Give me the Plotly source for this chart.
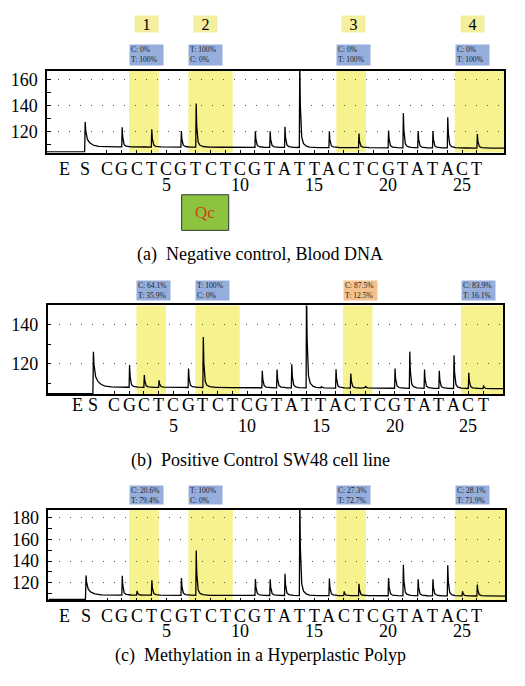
import numpy as np
import plotly.graph_objects as go

# The page body has an 8px margin, so the figure is drawn 8px smaller and all
# reference pixel coordinates are shifted by that offset.
OFF = 8
W, H = 525 - OFF, 686 - OFF
SERIF = "Liberation Serif, Times New Roman, serif"

# ---------------- data ----------------
dispensation = ["C", "G", "C", "T", "C", "G", "T", "C", "T", "C", "G", "T", "A",
                "T", "T", "A", "C", "T", "C", "G", "T", "A", "T", "A", "C", "T"]
disp_pos = list(range(1, 27))
number_ticks = [5, 10, 15, 20, 25]

# CpG site bands (start, end) in dispensation units; last runs to the edge
site_numbers = ["1", "2", "3", "4"]
band_start = [2.5, 6.5, 16.5, 24.5]
band_end = [4.5, 9.5, 18.5, None]

# Peak heights: S peak, then dispensations 1..26 (None = no peak)
s_height_a = 127.5
heights_a = [None, 123.3, None, 121.8, None, 120.5, 141.6, None, None, None,
             120.3, 120.3, 123.8, 175.0, None, 120.3, None, 118.5, None, 120.8,
             134.3, 120.5, 120.5, 131.0, None, 118.2]
baseline_a = [104.5, 108.4, 107.4]   # before S, after S, end

s_height_b = 126.0
heights_b = [None, 119.3, 114.2, 111.5, None, 117.5, 133.6, None, None, None,
             116.3, 117.0, 119.7, 160.0, 108.3, 117.1, 114.9, 108.6, None, 117.5,
             126.1, 117.0, 116.3, 124.3, 115.3, 108.8]
baseline_b = [104.7, 108.0, 107.2]

s_height_c = 126.7
heights_c = [None, 126.4, 112.3, 122.1, None, 124.3, 149.8, None, None, None,
             123.3, 123.0, 128.3, 200.0, None, 123.7, 112.0, 119.0, None, 124.3,
             136.6, 123.0, 123.0, 136.0, 112.0, 118.2]
baseline_c = [104.6, 108.5, 107.6]

labels_a = ["C: 0%<br>T: 100%", "T: 100%<br>C: 0%", "C: 0%<br>T: 100%", "C: 0%<br>T: 100%"]
labels_b = ["C: 64.1%<br>T: 35.9%", "T: 100%<br>C: 0%", "C: 87.5%<br>T: 12.5%", "C: 83.9%<br>T: 16.1%"]
labels_c = ["C: 20.6%<br>T: 79.4%", "T: 100%<br>C: 0%", "C: 27.3%<br>T: 72.7%", "C: 28.1%<br>T: 71.9%"]
highlight_b = [False, False, True, False]

captions = ["(a)\u00a0\u00a0Negative control, Blood DNA",
            "(b)\u00a0\u00a0Positive Control SW48 cell line",
            "(c)\u00a0\u00a0Methylation in a Hyperplastic Polyp"]

# ---------------- layout geometry (pixels in the reference) ----------------
def py(p):
    return 1 - (p - OFF) / H

def pxx(p):
    return (p - OFF) / W

panels = [
    dict(xd=(47, 504), yd=(69, 151), xr=(-3.05, 27.83), yr=(104.0, 166.6),
         ytv=[120, 140, 160], ymin=[110, 130, 150], e_pos=-1.85, s_pos=-0.5,
         s_h=s_height_a, h=heights_a, base=baseline_a, labels=labels_a,
         hl=[False] * 4, box_y=(43.7, 63.3), let_y=167.3, num_y=183.5, cap_y=253),
    dict(xd=(47.7, 503), yd=(304.3, 393.3), xr=(-3.52, 27.35), yr=(104.4, 149.7),
         ytv=[120, 140], ymin=[110, 130], e_pos=-1.5, s_pos=-0.45,
         s_h=s_height_b, h=heights_b, base=baseline_b, labels=labels_b,
         hl=highlight_b, box_y=(280, 298.5), let_y=404, num_y=425.5, cap_y=460),
    dict(xd=(48.3, 505), yd=(509.3, 600), xr=(-2.97, 27.9), yr=(103.7, 187.4),
         ytv=[120, 140, 160, 180], ymin=[110, 130, 150, 170], e_pos=-1.85, s_pos=-0.45,
         s_h=s_height_c, h=heights_c, base=baseline_c, labels=labels_c,
         hl=[False] * 4, box_y=(485, 503.3), let_y=616, num_y=631, cap_y=655),
]


def shape(d, fast, tail_w, tail_tau):
    out = np.zeros_like(d)
    rise = (d >= 0) & (d < 0.03)
    out[rise] = d[rise] / 0.03
    dec = d >= 0.03
    dd = d[dec] - 0.03
    out[dec] = (1 - tail_w) * np.exp(-dd / fast) + tail_w * np.exp(-dd / tail_tau)
    return out


def pyrogram(p):
    x0, x1 = p["xr"]
    x = np.round(np.arange(x0, x1 + 0.005, 0.01), 3)
    bpre, bstart, bend = p["base"]
    base = np.where(x < p["s_pos"], bpre,
                    bstart + (bend - bstart) * (x - p["s_pos"]) / (x1 - p["s_pos"]))
    y = base.copy()
    y += (p["s_h"] - bstart) * shape(x - p["s_pos"], 0.05, 0.45, 0.3)
    for pos, h in zip(disp_pos, p["h"]):
        if h is None:
            continue
        b = bstart + (bend - bstart) * (pos - p["s_pos"]) / (x1 - p["s_pos"])
        y += (h - b) * shape(x - pos, 0.045, 0.15, 0.2)
    return x, y


def txt(x, xref, y, text, size=18, color="black", **kw):
    d = dict(x=x, xref=xref, y=y, yref="paper", text=text, showarrow=False,
             xanchor="center", yanchor="middle",
             font=dict(family=SERIF, size=size, color=color))
    d.update(kw)
    return d


fig = go.Figure()
shapes = []
annotations = []
layout_axes = {}

for i, p in enumerate(panels):
    n = "" if i == 0 else str(i + 1)
    xref, yref = "x" + n, "y" + n
    x, y = pyrogram(p)
    fig.add_trace(go.Scatter(x=x, y=y, mode="lines", xaxis=xref, yaxis=yref,
                             line=dict(color="black", width=1.3), hoverinfo="skip",
                             showlegend=False))

    layout_axes["xaxis" + n] = dict(
        domain=[pxx(p["xd"][0]), pxx(p["xd"][1])], range=list(p["xr"]), anchor=yref,
        tickvals=disp_pos, ticks="inside", ticklen=3, tickwidth=1, tickcolor="black",
        showticklabels=False, showgrid=False, zeroline=False,
        showline=True, linecolor="black", linewidth=1.5, mirror=True)
    layout_axes["yaxis" + n] = dict(
        domain=[py(p["yd"][1]), py(p["yd"][0])], range=list(p["yr"]), anchor=xref,
        tickvals=p["ytv"], ticks="inside", ticklen=4, tickwidth=1, tickcolor="black",
        tickfont=dict(family=SERIF, size=18, color="black"), ticklabelstandoff=4,
        showgrid=True, gridcolor="#555555", gridwidth=1, griddash="1px,10px",
        minor=dict(tickvals=p["ymin"], ticks="inside", ticklen=4, tickcolor="black",
                   showgrid=False),
        zeroline=False, showline=True, linecolor="black", linewidth=1.5, mirror=True)

    # yellow CpG bands
    for bs, be in zip(band_start, band_end):
        shapes.append(dict(type="rect", xref=xref, yref=yref + " domain",
                           x0=bs, x1=be if be is not None else p["xr"][1], y0=0, y1=1,
                           fillcolor="#f6f28e", line=dict(width=0), layer="below"))

    # result boxes
    by0, by1 = p["box_y"]
    for bs, t, hl in zip(band_start, p["labels"], p["hl"]):
        annotations.append(txt(bs, xref, py((by0 + by1) / 2), t, size=7.6, color="#222",
                               xanchor="left", align="left", width=31,
                               height=by1 - by0 - 2, borderpad=1,
                               bgcolor="#f5c28f" if hl else "#95aedb"))

    # dispensation letters and numbers
    annotations.append(txt(p["e_pos"], xref, py(p["let_y"]), "E"))
    annotations.append(txt(p["s_pos"], xref, py(p["let_y"]), "S"))
    for pos, letter in zip(disp_pos, dispensation):
        annotations.append(txt(pos, xref, py(p["let_y"]), letter))
    for num in number_ticks:
        annotations.append(txt(num, xref, py(p["num_y"]), str(num)))
    # caption
    annotations.append(txt(pxx(260), "paper", py(p["cap_y"]), captions[i]))

# site number boxes above panel (a)
for bs, lab in zip(band_start, site_numbers):
    annotations.append(txt(bs, "x", py(22.5), lab, size=16, xanchor="left", xshift=5,
                           width=23, height=16, borderpad=0, bgcolor="#f3ef9e"))

# Qc box below panel (a)
shapes.append(dict(type="rect", xref="x", yref="paper", x0=6.05, x1=9.23,
                   y0=py(229), y1=py(193.3), fillcolor="#8cc43f",
                   line=dict(color="#333333", width=1)))
annotations.append(txt(7.64, "x", py(211.5), "Qc", size=17, color="#d8401c"))

fig.update_layout(width=W, height=H, margin=dict(l=0, r=0, t=0, b=0),
                  paper_bgcolor="white", plot_bgcolor="white",
                  shapes=shapes, annotations=annotations, **layout_axes)

fig.write_html("out.html")
